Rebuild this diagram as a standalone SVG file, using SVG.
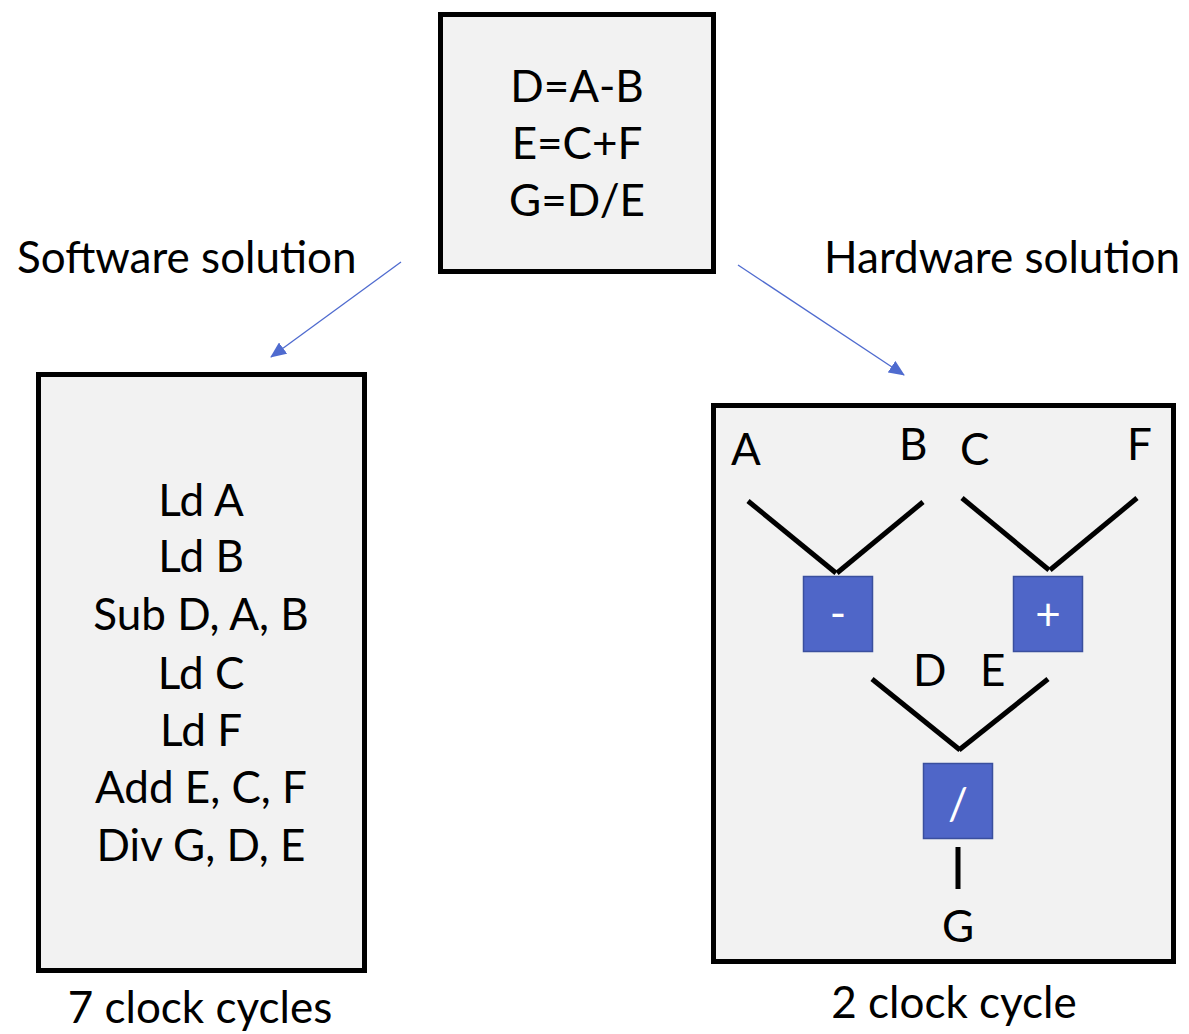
<svg xmlns="http://www.w3.org/2000/svg" width="1189" height="1034" viewBox="0 0 1189 1034">
  <style>
    text { font-family: Lato, "Open Sans", sans-serif; font-size: 44px; fill: #000; }
    .mid { text-anchor: middle; }
    .end { text-anchor: end; }
    .box { fill: #f2f2f2; stroke: #000; stroke-width: 5; }
    .op { fill: #4f66c8; stroke: #3a4f9e; stroke-width: 1.5; }
    .optext { fill: #fff; text-anchor: middle; font-size: 44px; }
    .wire { stroke: #000; stroke-width: 5; fill: none; }
    .arrow { stroke: #4f6bcf; stroke-width: 1.3; fill: none; marker-end: url(#head); }
  </style>
  <defs>
    <marker id="head" markerWidth="16" markerHeight="14" refX="15" refY="7" orient="auto" markerUnits="userSpaceOnUse">
      <path d="M0,0 L16,7 L0,14 Z" fill="#4f6bcf"/>
    </marker>
  </defs>
  <rect width="1189" height="1034" fill="#fff"/>

  <!-- equations -->
  <g id="equations">
    <rect class="box" x="440.5" y="14.5" width="273" height="257"/>
    <text class="mid" x="577" y="102">D=A-B</text>
    <text class="mid" x="577" y="159">E=C+F</text>
    <text class="mid" x="577" y="216">G=D/E</text>
  </g>

  <g id="software-label"><text x="17" y="273">Software solution</text></g>
  <g id="hardware-label"><text class="end" x="1180" y="273">Hardware solution</text></g>

  <!-- software: instruction sequence -->
  <g id="software">
    <rect class="box" x="38.5" y="374.5" width="326" height="596"/>
    <text class="mid" x="201" y="516">Ld A</text>
    <text class="mid" x="201" y="572">Ld B</text>
    <text class="mid" x="201" y="630">Sub D, A, B</text>
    <text class="mid" x="201" y="689">Ld C</text>
    <text class="mid" x="201" y="746">Ld F</text>
    <text class="mid" x="201" y="803">Add E, C, F</text>
    <text class="mid" x="201" y="861">Div G, D, E</text>
  </g>
  <g id="software-cycles"><text class="mid" x="200" y="1023">7 clock cycles</text></g>

  <!-- hardware: dataflow -->
  <g id="hardware">
    <rect class="box" x="713.5" y="405.5" width="460" height="556"/>
  </g>
  <g id="inputs">
    <text x="731" y="465">A</text>
    <text x="899" y="460">B</text>
    <text x="960" y="465">C</text>
    <text x="1127" y="460">F</text>
  </g>
  <g id="sub">
    <rect class="op" x="803.5" y="576.5" width="69" height="75"/>
    <text class="optext" x="838" y="629">-</text>
  </g>
  <g id="add">
    <rect class="op" x="1013.5" y="576.5" width="69" height="75"/>
    <text class="optext" x="1048" y="630">+</text>
  </g>
  <g id="div">
    <rect class="op" x="923.5" y="763.5" width="69" height="75"/>
    <text class="optext" x="958" y="820">/</text>
  </g>
  <g id="mid-labels">
    <text x="913" y="686">D</text>
    <text x="980" y="686">E</text>
  </g>
  <g id="output"><text class="mid" x="958" y="942">G</text></g>

  <g id="connectors">
    <line class="wire" x1="748" y1="501" x2="836" y2="573"/>
    <line class="wire" x1="923" y1="502" x2="837" y2="573"/>
    <line class="wire" x1="962" y1="498" x2="1049" y2="570"/>
    <line class="wire" x1="1137" y1="498" x2="1050" y2="570"/>
    <line class="wire" x1="872" y1="679" x2="960" y2="750"/>
    <line class="wire" x1="1048" y1="679" x2="959" y2="750"/>
    <line class="wire" x1="958" y1="847" x2="958" y2="889"/>
    <line class="arrow" x1="401" y1="262" x2="271" y2="357"/>
    <line class="arrow" x1="738" y1="265" x2="904" y2="375"/>
  </g>

  <g id="hardware-cycles"><text class="mid" x="954" y="1018">2 clock cycle</text></g>
</svg>
